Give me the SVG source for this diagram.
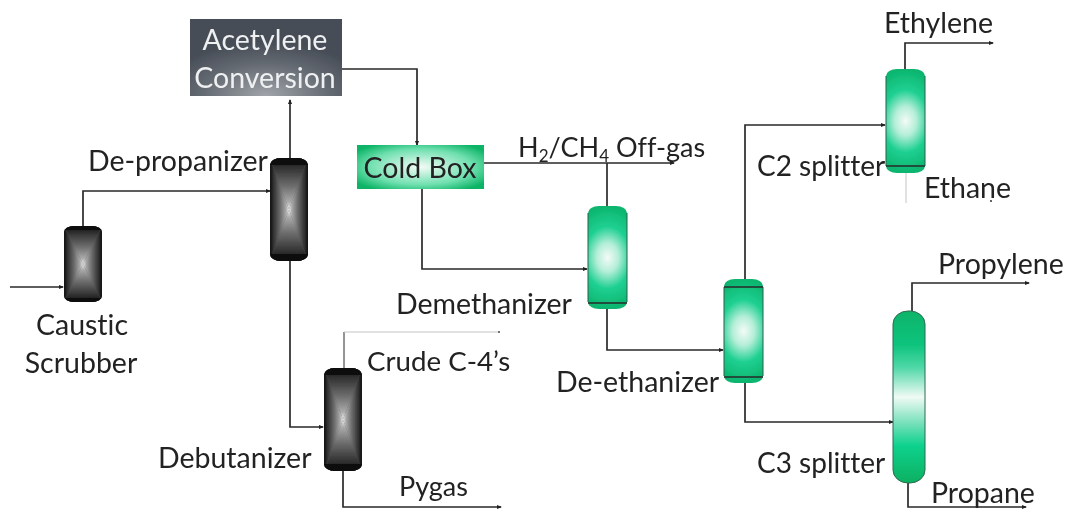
<svg xmlns="http://www.w3.org/2000/svg" width="1067" height="510" viewBox="0 0 1067 510">
<style>
text{font-family:Lato,"Open Sans","Liberation Sans",sans-serif;font-size:28.500px;fill:#222;font-variant-ligatures:none}
.w{fill:#eef0f2;text-anchor:middle}
.m{text-anchor:middle}
.c{fill:none;stroke:#2a2a2a;stroke-width:1.700;marker-end:url(#a)}
.n{fill:none;stroke:#2a2a2a;stroke-width:1.700}
.f{stroke:#c4c4c4;fill:none;stroke-width:1}
.s{fill:none;stroke:#2f5f4c;stroke-width:1}
.cap{fill:#0a0a0a}
.b{fill:#555}
</style>
<defs>
<marker id="a" markerWidth="5" markerHeight="5" refX="4" refY="2.500" orient="auto" markerUnits="userSpaceOnUse"><path d="M0,0.500L5,2.500L0,4.500z" fill="#222"/></marker>
<linearGradient id="gh"><stop offset="0" stop-color="#101010"/><stop offset=".2" stop-color="#333"/><stop offset=".55" stop-color="#6e6e6e"/><stop offset=".85" stop-color="#aaa"/><stop offset="1" stop-color="#eee"/></linearGradient>
<linearGradient id="gh2" x1="1" x2="0"><stop offset="0" stop-color="#101010"/><stop offset=".2" stop-color="#333"/><stop offset=".55" stop-color="#6e6e6e"/><stop offset=".85" stop-color="#aaa"/><stop offset="1" stop-color="#eee"/></linearGradient>
<linearGradient id="gv" x1="0" y1="0" x2="0" y2="1"><stop offset="0" stop-color="#101010"/><stop offset=".2" stop-color="#333"/><stop offset=".55" stop-color="#6e6e6e"/><stop offset=".85" stop-color="#aaa"/><stop offset="1" stop-color="#eee"/></linearGradient>
<linearGradient id="gv2" x1="0" y1="1" x2="0" y2="0"><stop offset="0" stop-color="#101010"/><stop offset=".2" stop-color="#333"/><stop offset=".55" stop-color="#6e6e6e"/><stop offset=".85" stop-color="#aaa"/><stop offset="1" stop-color="#eee"/></linearGradient>
<radialGradient id="gr" cx=".5" cy=".5" r=".5" gradientTransform="translate(.5 .5) scale(2 1) translate(-.5 -.5)"><stop offset="0" stop-color="#f4fbf8"/><stop offset=".28" stop-color="#b4eed8"/><stop offset=".6" stop-color="#1fd092"/><stop offset="1" stop-color="#0bb56e"/></radialGradient>
<linearGradient id="gb" x1="0" y1="0" x2="0" y2="1"><stop offset="0" stop-color="#0bb468"/><stop offset=".2" stop-color="#10c47e"/><stop offset=".33" stop-color="#50d8a8"/><stop offset=".5" stop-color="#f0faf5"/><stop offset=".66" stop-color="#70dfb8"/><stop offset=".78" stop-color="#0fd28e"/><stop offset="1" stop-color="#0bb060"/></linearGradient>
<radialGradient id="ga" cx=".5" cy="1" r=".7"><stop offset="0" stop-color="#a0a4aa"/><stop offset=".6" stop-color="#646a72"/><stop offset="1" stop-color="#474d56"/></radialGradient>
<radialGradient id="cb" cx=".5" cy=".5" r=".62"><stop offset="0" stop-color="#f4fbf7"/><stop offset=".65" stop-color="#70e0b0"/><stop offset="1" stop-color="#0cb466"/></radialGradient>
<filter id="soft" x="0" y="0" width="100%" height="100%"><feGaussianBlur stdDeviation=".45"/></filter>
</defs>
<rect width="1067" height="510" fill="#fff"/>
<g filter="url(#soft)">
<g id="connectors">
<path class="c" d="M10,287H63"/>
<path class="c" d="M83,226V191H270"/>
<path class="c" d="M290,158V100"/>
<path class="c" d="M342,69H417V145"/>
<path class="c" d="M473,163H674"/>
<path class="n" d="M607,206V163"/>
<path class="c" d="M422,183V269H587"/>
<path class="c" d="M607,309V350H723"/>
<path class="c" d="M745,279V125H885"/>
<path class="c" d="M745,383V422H893"/>
<path class="c" d="M905,69V43H993"/>
<path class="f" d="M906,173V203"/>
<circle cx="991" cy="201" r="1" fill="#333"/>
<path class="c" d="M912,311V283H1029"/>
<path class="c" d="M908,483V507H1026"/>
<path class="c" d="M290,260V427H323"/>
<path class="n" d="M344,368V332" style="stroke-width:1"/>
<path class="f" d="M344,332H498"/>
<circle cx="499" cy="332" r="1" fill="#444"/>
<path class="c" d="M343,471V507H501"/>
</g>
<g id="acetylene-conversion"><rect x="190" y="19" width="152" height="77" fill="url(#ga)"/><text class="w" x="265" y="50">Acetylene</text><text class="w" x="265" y="88">Conversion</text></g>
<g id="cold-box"><rect x="357" y="145" width="127" height="44" fill="url(#cb)"/><text class="m" x="420" y="178">Cold Box</text></g>
<g id="caustic-scrubber">
<clipPath id="k1"><rect x="64" y="226" width="38" height="76" rx="10" ry="6"/></clipPath>
<g clip-path="url(#k1)"><rect class="b" x="64" y="226" width="38" height="76"/><polygon points="64,226 83,264 64,302" fill="url(#gh)"/><polygon points="102,226 83,264 102,302" fill="url(#gh2)"/><polygon points="64,226 102,226 83,264" fill="url(#gv)"/><polygon points="64,302 102,302 83,264" fill="url(#gv2)"/><rect class="cap" x="64" y="226" width="38" height="4"/><rect class="cap" x="64" y="298" width="38" height="4"/></g>
<text class="m" x="82" y="335">Caustic</text><text class="m" x="81" y="373">Scrubber</text></g>
<g id="de-propanizer">
<clipPath id="k2"><rect x="270" y="158" width="38" height="103" rx="11" ry="7"/></clipPath>
<g clip-path="url(#k2)"><rect class="b" x="270" y="158" width="38" height="103"/><polygon points="270,158 289,209.500 270,261" fill="url(#gh)"/><polygon points="308,158 289,209.500 308,261" fill="url(#gh2)"/><polygon points="270,158 308,158 289,209.500" fill="url(#gv)"/><polygon points="270,261 308,261 289,209.500" fill="url(#gv2)"/><rect class="cap" x="270" y="158" width="38" height="7"/><rect class="cap" x="270" y="254" width="38" height="7"/></g>
<text x="88" y="171">De-propanizer</text></g>
<g id="debutanizer">
<clipPath id="k3"><rect x="324" y="368" width="38" height="103" rx="11" ry="7"/></clipPath>
<g clip-path="url(#k3)"><rect class="b" x="324" y="368" width="38" height="103"/><polygon points="324,368 343,419.500 324,471" fill="url(#gh)"/><polygon points="362,368 343,419.500 362,471" fill="url(#gh2)"/><polygon points="324,368 362,368 343,419.500" fill="url(#gv)"/><polygon points="324,471 362,471 343,419.500" fill="url(#gv2)"/><rect class="cap" x="324" y="368" width="38" height="7"/><rect class="cap" x="324" y="464" width="38" height="7"/></g>
<text x="158" y="468">Debutanizer</text></g>
<g id="demethanizer"><rect x="588" y="206" width="39" height="103" rx="11" ry="7" fill="url(#gr)"/><path class="s" d="M588,213V302M627,213V302"/><path class="n" d="M588,303H627"/><text x="396" y="314">Demethanizer</text></g>
<g id="de-ethanizer"><rect x="724" y="279" width="39" height="104" rx="11" ry="7" fill="url(#gr)"/><path class="s" d="M724,287V376M763,287V376"/><path class="n" d="M724,287H763M724,377H763"/><text x="556" y="392">De-ethanizer</text></g>
<g id="c2-splitter"><rect x="886" y="69" width="39" height="104" rx="11" ry="7" fill="url(#gr)"/><path class="s" d="M886,76V166M925,76V166"/><path class="n" d="M886,166H925"/><text x="757" y="176" font-size="28" style="font-size:28px">C2 splitter</text></g>
<g id="c3-splitter"><rect x="893" y="311" width="32" height="172" rx="15" ry="13" fill="url(#gb)" stroke="#2f6a52" stroke-width="1"/><text x="757" y="473" style="font-size:28px">C3 splitter</text></g>
<g id="labels">
<text x="518" y="157" style="font-size:27px">H<tspan font-size="17" style="font-size:17px" dy="5">2</tspan><tspan dy="-5">/CH</tspan><tspan style="font-size:17px" dy="5">4</tspan><tspan dy="-5"> Off-gas</tspan></text>
<text x="367" y="371" style="font-size:27.700px">Crude C-4’s</text>
<text x="399" y="496" style="font-size:27px">Pygas</text>
<text x="884" y="33">Ethylene</text>
<text x="924" y="198">Ethane</text>
<text x="938" y="274">Propylene</text>
<text x="931" y="503">Propane</text>
</g>
</g>
</svg>
